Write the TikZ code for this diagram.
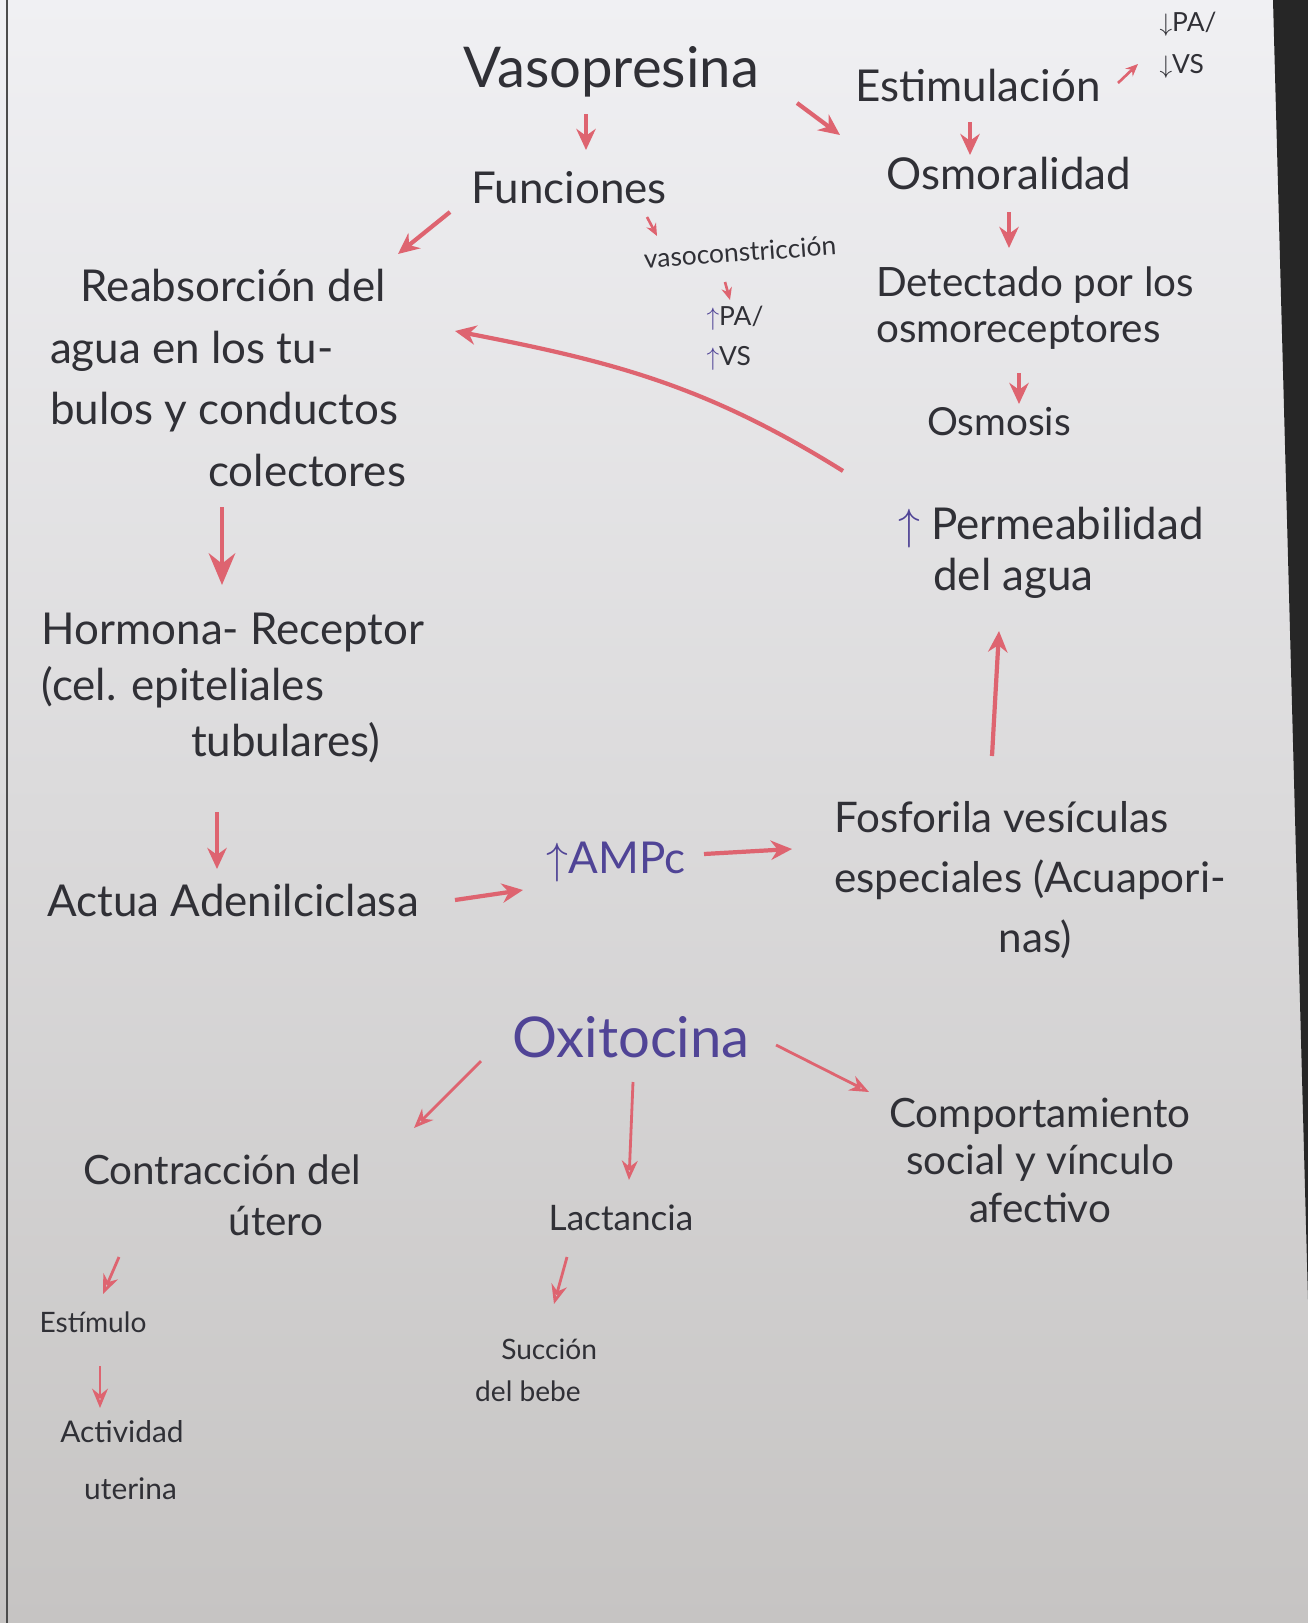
\documentclass[tikz,border=0pt]{standalone}
\usepackage{fontspec}
\setmainfont{Lato}
\usetikzlibrary{arrows.meta,calc}
\definecolor{penred}{RGB}{222,100,112}
\definecolor{penblue}{RGB}{80,68,150}
\definecolor{inkgray}{RGB}{48,48,54}
\definecolor{paperhi}{RGB}{240,240,243}
\definecolor{paperlo}{RGB}{198,196,195}
\tikzset{
  txt/.style={inner sep=0pt, text=inkgray, align=center, font=\fontsize{25}{35}\selectfont},
  big/.style={txt, font=\fontsize{32}{38}\selectfont},
  mid/.style={txt, font=\fontsize{20}{26}\selectfont},
  small/.style={txt, font=\fontsize{15}{23}\selectfont},
  arr/.style={penred, line width=2.4pt, -{Stealth[length=12pt,width=11pt]}},
  arrbig/.style={penred, line width=2.8pt, -{Stealth[length=18pt,width=15pt]}},
  arrsm/.style={penred, line width=1.5pt, -{Stealth[length=7pt,width=6pt]}},
  arrthin/.style={penred, line width=1.6pt, -{Stealth[length=11pt,width=9pt,open]}},
}
\begin{document}
\begin{tikzpicture}[x=0.02cm,y=-0.02cm]
\useasboundingbox (0,0) rectangle (1308,1623);
% paper
\fill[top color=paperhi, bottom color=paperlo] (0,0) rectangle (1308,1623);
\fill[black!85] (1273,0) -- (1308,0) -- (1308,1300) -- cycle;
\draw[black!70, line width=1pt] (7,0) -- (7,1623);

% Vasopresina
\node[big] (vaso) at (611,72) {Vasopresina};
\node[txt] (func) at (569,188) {Funciones};
\node[txt] (estim) at (978,85) {Estimulación};
\node[small, align=left, font=\fontsize{15}{24}\selectfont] (pa) at (1188,45) {$\downarrow$PA/\\$\downarrow$VS};
\node[txt] (osmo) at (1009,173) {Osmoralidad};
\node[txt, align=left, font=\fontsize{23}{26}\selectfont] (detect) at (1035,308) {Detectado por los\\osmoreceptores};
\node[txt, font=\fontsize{22}{26}\selectfont] (osmosis) at (999,422) {Osmosis};
\node[small, rotate=4] (vasoc) at (740,252) {vasoconstricción};
\node[small, align=left] (paup) at (735,338) {{\color{penblue}$\uparrow$}PA/\\{\color{penblue}$\uparrow$}VS};
\node[txt, align=left] (reab) at (228,378) {\hspace*{0.7em}Reabsorción del\\agua en los tu-\\bulos y conductos\\\hspace*{3.6em}colectores};
\node[txt, align=left, font=\fontsize{25}{32}\selectfont] (horm) at (233,688) {Hormona- Receptor\\(cel. epiteliales\\\hspace*{3.4em}tubulares)};
\node[txt] (adenil) at (233,900) {Actua Adenilciclasa};
\node[txt, text=penblue] (ampc) at (616,862) {$\uparrow$AMPc};
\node[txt, align=left, font=\fontsize{24}{34}\selectfont] (fosf) at (1030,880) {Fosforila vesículas\\especiales (Acuapori-\\\hspace*{3.9em}nas)};
\node[txt, align=left, font=\fontsize{25}{29}\selectfont] (perm) at (1051,553) {{\color{penblue}$\uparrow$} Permeabilidad\\\hspace*{0.8em}del agua};

% Oxitocina
\node[big, text=penblue] (oxi) at (631,1037) {Oxitocina};
\node[txt, align=left, font=\fontsize{23}{29}\selectfont] (contr) at (222,1195) {Contracción del\\\hspace*{3.6em}útero};
\node[mid] (lact) at (621,1218) {Lactancia};
\node[txt, font=\fontsize{23}{27}\selectfont] (comp) at (1040,1160) {Comportamiento\\social y vínculo\\afectivo};
\node[small, font=\fontsize{16}{20}\selectfont] (estimulo) at (93,1322) {Estímulo};
\node[small, align=left, font=\fontsize{17}{32}\selectfont] (activ) at (122,1460) {Actividad\\\hspace*{0.8em}uterina};
\node[small, font=\fontsize{16}{24}\selectfont] (succ) at (528,1370) {\hspace*{1.5em}Succión\\del bebe};

% conectores
\draw[arr] ($(vaso.center)+(-25,42)$) -- ($(func.center)+(17,-38)$);
\draw[arr] ($(vaso.center)+(186,31)$) -- ($(estim.center)+(-138,50)$);
\draw[arrsm] ($(estim.center)+(140,-2)$) -- ($(pa.center)+(-50,19)$);
\draw[arr] ($(estim.center)+(-8,37)$) -- ($(osmo.center)+(-39,-18)$);
\draw[arr] ($(osmo.center)+(0,39)$) -- ($(detect.center)+(-26,-60)$);
\draw[arr] ($(detect.center)+(-16,65)$) -- ($(osmosis.center)+(20,-18)$);
\draw[arr] ($(func.center)+(-119,24)$) -- ($(reab.center)+(170,-124)$);
\draw[arrsm] ($(func.center)+(78,29)$) -- ($(vasoc.center)+(-83,-16)$);
\draw[arrsm] ($(vasoc.center)+(-15,30)$) -- ($(paup.center)+(-5,-38)$);
\draw[arr] ($(perm.center)+(-208,-82)$) to[out=148,in=-11] ($(reab.center)+(227,-47)$);
\draw[arrbig] ($(reab.center)+(-6,129)$) -- ($(horm.center)+(-11,-103)$);
\draw[arr] ($(horm.center)+(-16,124)$) -- ($(adenil.center)+(-16,-31)$);
\draw[arr] ($(adenil.center)+(222,0)$) -- ($(ampc.center)+(-93,28)$);
\draw[arr] ($(ampc.center)+(88,-8)$) -- ($(fosf.center)+(-238,-31)$);
\draw[arr] ($(fosf.center)+(-38,-124)$) -- ($(perm.center)+(-52,78)$);
\draw[arrthin] ($(oxi.center)+(-150,24)$) -- ($(contr.center)+(192,-67)$);
\draw[arrthin] ($(oxi.center)+(2,45)$) -- ($(lact.center)+(8,-38)$);
\draw[arrthin] ($(oxi.center)+(145,8)$) -- ($(comp.center)+(-171,-68)$);
\draw[arrthin] ($(contr.center)+(-103,62)$) -- ($(estimulo.center)+(10,-28)$);
\draw[arrthin] ($(estimulo.center)+(7,44)$) -- ($(activ.center)+(-22,-52)$);
\draw[arrthin] ($(lact.center)+(-54,39)$) -- ($(succ.center)+(26,-66)$);
\end{tikzpicture}
\end{document}
